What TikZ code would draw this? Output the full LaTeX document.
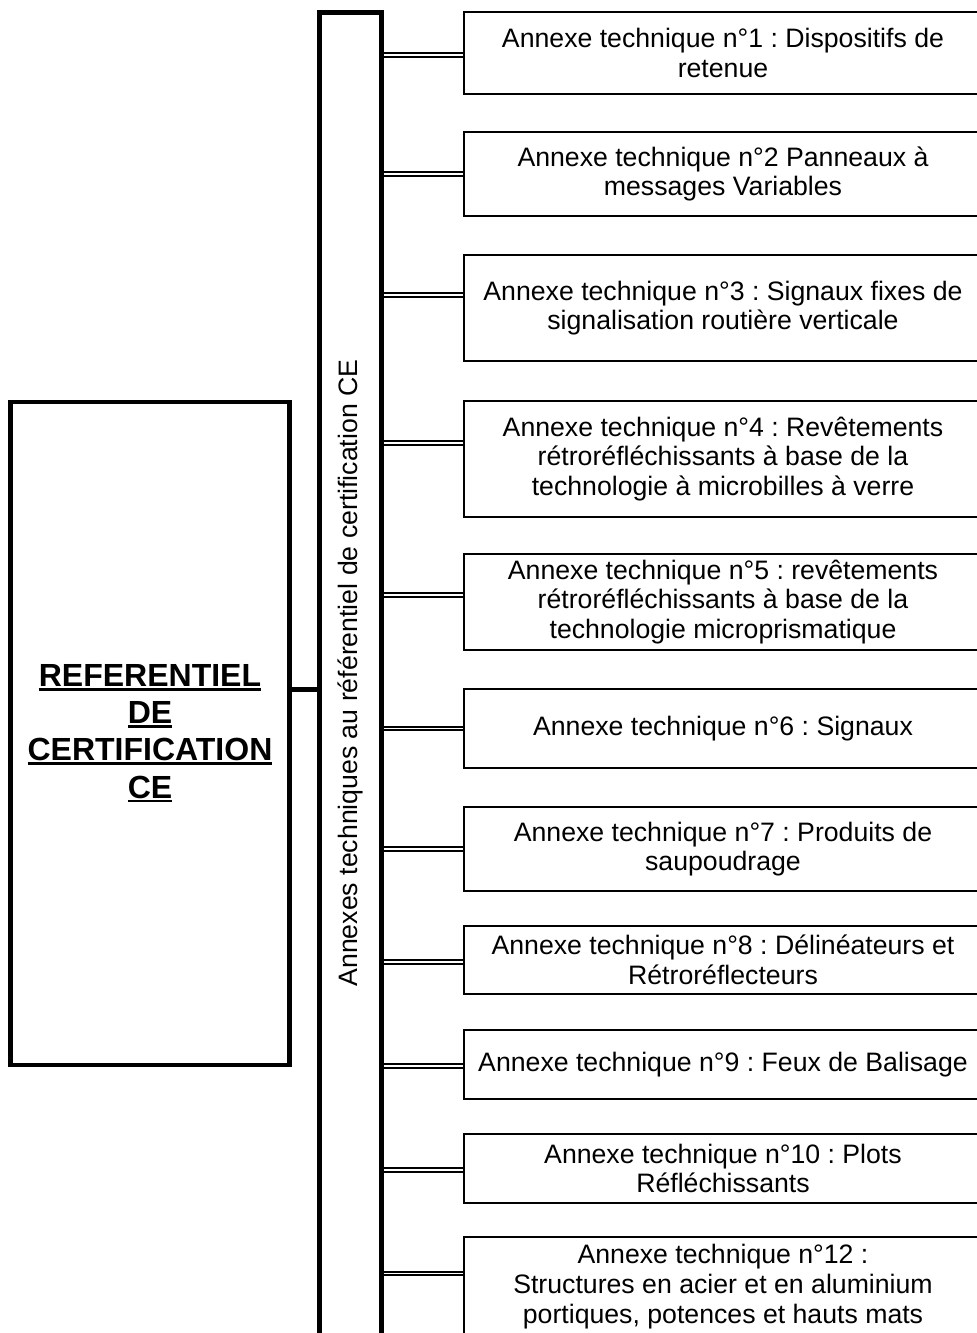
\documentclass[tikz,border=0pt]{standalone}
\usepackage{fontspec}
\setmainfont{Liberation Sans}
\usepackage{graphicx}
\usepackage{tikz}
\frenchspacing

\newcommand{\annexefont}{\fontsize{20}{22.2}\selectfont}
\newcommand{\titlefont}{\fontsize{24}{27.9}\selectfont\bfseries}
\newcommand{\ulword}[1]{\setbox0\hbox{#1}\rlap{\vrule width\wd0 height -1.1pt depth 3.2pt}\box0}

\begin{document}
\begin{tikzpicture}[
        x=0.75pt, y=-0.75pt,
        annexe/.style={draw, rectangle, line width=1.8pt, anchor=north west, outer sep=0pt,
            inner sep=0pt, minimum width=388.5pt, align=center, font=\annexefont},
        link/.style={double, line width=1.4pt, double distance=1.2pt,
            shorten <=1.7pt, shorten >=0.9pt}
    ]
    \useasboundingbox (0,0) rectangle (976,1333);
    \node[draw, rectangle, line width=3.4pt, minimum width=209.25pt, minimum height=497.25pt,
        align=center, font=\titlefont] (ref) at (150,733.5)
        {\ulword{REFERENTIEL}\\\ulword{DE}\\\ulword{CERTIFICATION}\\\ulword{CE}};
    \node[inner sep=0pt, minimum width=45.75pt, minimum height=990pt, font=\annexefont] (bar) at (350.5,673)
        {\rotatebox{90}{Annexes techniques au référentiel de certification CE}};
    \draw[line width=3.4pt] (bar.south west) -- (bar.north west) -- (bar.north east) -- (bar.south east);
    \draw[line width=3.4pt] ([yshift=33pt]ref.east) -- ([yshift=33pt]ref.east -| bar.west);

    \node[annexe, minimum height=61.5pt] (a1) at (464,12) {Annexe technique n°1 : Dispositifs de\\retenue};
    \node[annexe, minimum height=63pt] (a2) at (464,132) {Annexe technique n°2 Panneaux à\\messages Variables};
    \node[annexe, minimum height=79.5pt] (a3) at (464,255) {Annexe technique n°3 : Signaux fixes de\\signalisation routière verticale};
    \node[annexe, minimum height=87pt] (a4) at (464,401) {Annexe technique n°4 : Revêtements\\rétroréfléchissants à base de la\\technologie à microbilles à verre};
    \node[annexe, minimum height=72pt] (a5) at (464,554) {Annexe technique n°5 : revêtements\\rétroréfléchissants à base de la\\technologie microprismatique};
    \node[annexe, minimum height=59.25pt] (a6) at (464,689) {Annexe technique n°6 : Signaux};
    \node[annexe, minimum height=63pt] (a7) at (464,807) {Annexe technique n°7 : Produits de\\saupoudrage};
    \node[annexe, minimum height=51pt] (a8) at (464,926) {Annexe technique n°8 : Délinéateurs et\\Rétroréflecteurs};
    \node[annexe, minimum height=51.75pt] (a9) at (464,1030) {Annexe technique n°9 : Feux de Balisage};
    \node[annexe, minimum height=51.75pt] (a10) at (464,1134) {Annexe technique n°10 : Plots\\Réfléchissants};
    \node[annexe, minimum height=74.25pt] (a12) at (464,1237) {Annexe technique n°12 :\\Structures en acier et en aluminium\\portiques, potences et hauts mats};

    \foreach \n/\s in {a1/-1.5pt, a2/0pt, a3/9.75pt, a4/12pt, a5/5.25pt, a6/0pt,
            a7/0pt, a8/-1.5pt, a9/-1.1pt, a10/-1.1pt, a12/9.75pt}
        \draw[link] ([yshift=\s]\n.west -| bar.east) -- ([yshift=\s]\n.west);
\end{tikzpicture}
\end{document}
